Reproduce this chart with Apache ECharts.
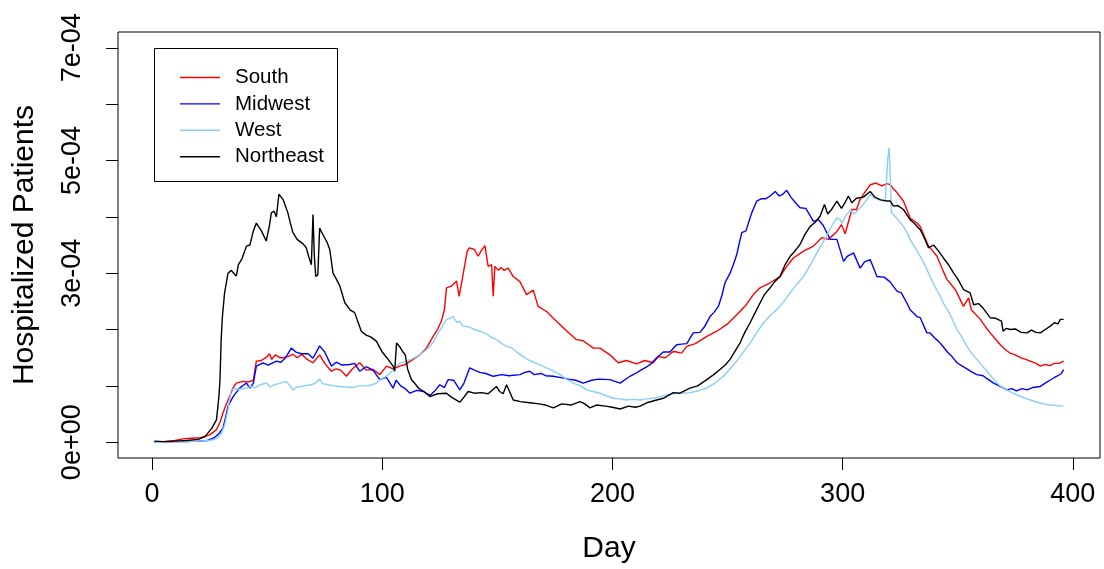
<!DOCTYPE html>
<html>
<head>
<meta charset="utf-8">
<script src="https://cdn.jsdelivr.net/npm/echarts@6/dist/echarts.min.js"></script>
<style>
  html, body { margin: 0; padding: 0; background: #fff; }
  #chart { width: 1104px; height: 569px; }
</style>
</head>
<body>
<div id="chart"></div>
<script>
// Daily hospitalized patients per capita by US region, [day, value in units of 1e-4]
const south = [[1,0.0],[5,0.01],[10,0.03],[13.4,0.06],[17,0.07],[21,0.08],[25,0.13],[27.9,0.22],[29.5,0.35],[30.8,0.52],[32,0.65],[33.7,0.81],[35,0.95],[36.6,1.05],[39.5,1.08],[42,1.07],[44,1.1],[45.3,1.44],[47.5,1.45],[50,1.52],[51,1.57],[52,1.47],[53.5,1.55],[55.5,1.50],[57,1.50],[59,1.52],[61.2,1.56],[63,1.50],[65,1.56],[67,1.48],[69.9,1.41],[72.8,1.55],[75,1.40],[77.9,1.26],[80,1.30],[82,1.28],[84.4,1.17],[87,1.30],[90.2,1.41],[93,1.28],[96,1.29],[99,1.2],[101.8,1.35],[104.7,1.30],[107.6,1.35],[110,1.38],[113.4,1.47],[116.3,1.55],[119.2,1.67],[122.1,1.88],[124,2.0],[125.7,2.15],[127,2.35],[127.9,2.74],[130,2.77],[132.3,2.86],[133.4,2.59],[135,2.95],[136.9,3.39],[137.8,3.45],[140,3.42],[141.7,3.30],[143,3.40],[144.6,3.49],[146,3.12],[147.5,3.15],[148.2,2.59],[148.9,3.12],[150.5,3.05],[151.5,3.10],[153,3.05],[154.7,3.09],[156.9,2.94],[159.8,2.85],[162.7,2.62],[165.6,2.70],[167.7,2.41],[171.4,2.32],[174.3,2.20],[177.2,2.09],[180,1.98],[184.4,1.82],[187.3,1.80],[191.7,1.67],[194.6,1.67],[198.9,1.55],[202.5,1.41],[206,1.45],[210.5,1.39],[214,1.45],[217.7,1.41],[219.9,1.52],[223,1.50],[226.4,1.61],[228,1.60],[230,1.58],[232.3,1.70],[236,1.75],[241,1.88],[245.3,1.97],[249.7,2.09],[252.5,2.20],[255.4,2.32],[258.3,2.45],[261.2,2.62],[264.1,2.74],[268.5,2.83],[272.8,2.94],[275.7,3.12],[278.6,3.27],[283,3.39],[287.3,3.48],[290.9,3.63],[293.8,3.60],[297.5,3.74],[299.5,3.86],[301.1,3.70],[304,4.13],[306,4.13],[307.6,4.31],[309,4.40],[312,4.57],[314.5,4.60],[317,4.55],[319.2,4.59],[320.7,4.57],[322,4.50],[323.6,4.43],[326.4,4.28],[327.9,4.13],[329.3,3.98],[332.3,3.89],[333.7,3.83],[335.5,3.65],[337.3,3.48],[339,3.40],[341,3.30],[343,3.10],[345.3,2.89],[348.9,2.71],[350.5,2.58],[352.5,2.41],[354.7,2.56],[355.9,2.35],[359.8,2.18],[362,2.05],[364.1,1.94],[366,1.85],[368.5,1.73],[370.5,1.65],[372.8,1.58],[375,1.55],[377.2,1.50],[379.5,1.47],[381.5,1.44],[384,1.40],[385.9,1.35],[388,1.38],[390,1.36],[392,1.40],[394,1.40],[396,1.44]];

const midwest = [[1,0.0],[5,0.0],[10,0.01],[15,0.01],[20,0.02],[24,0.03],[27,0.08],[29,0.15],[30.8,0.25],[32,0.45],[33,0.64],[35.2,0.81],[38,0.96],[41,1.05],[42.5,0.96],[44,1.05],[45.3,1.35],[48.2,1.41],[50.5,1.37],[52,1.40],[54,1.44],[56,1.42],[58,1.50],[60.5,1.67],[62.5,1.60],[65,1.57],[67.8,1.57],[69.9,1.49],[72.8,1.71],[75,1.60],[77.9,1.35],[80,1.42],[82.5,1.37],[85.9,1.38],[88,1.40],[90.2,1.26],[93,1.34],[96,1.28],[98.9,1.11],[101.8,1.15],[104.7,0.96],[106,1.10],[108,1.00],[110,0.95],[112,0.87],[115,0.92],[118,0.90],[120.7,0.83],[123,0.92],[125,1.02],[127,0.97],[128.6,1.11],[131,1.10],[133.7,0.93],[135.5,1.05],[138,1.32],[140,1.28],[142.4,1.24],[145,1.22],[148.2,1.17],[152,1.20],[155,1.18],[159.8,1.20],[162,1.24],[164.1,1.26],[166,1.20],[169,1.22],[171,1.18],[174.3,1.17],[177,1.15],[181,1.12],[184,1.10],[187.3,1.05],[191,1.10],[194,1.12],[198.9,1.11],[203.3,1.05],[207.6,1.17],[210,1.22],[212,1.27],[215,1.34],[217,1.40],[219.2,1.50],[222.1,1.60],[225,1.60],[227.9,1.73],[230,1.74],[232.3,1.75],[235.1,1.94],[238,1.95],[240,2.05],[242.4,2.23],[244,2.30],[246,2.41],[247.5,2.60],[248.9,2.83],[251.1,3.00],[252.5,3.15],[254,3.33],[255.2,3.55],[256.2,3.72],[258,3.75],[259,3.88],[260.5,4.07],[262.7,4.28],[264.5,4.32],[266.5,4.32],[268.5,4.37],[270.7,4.45],[272.5,4.37],[274,4.40],[275.7,4.47],[277.5,4.35],[279.5,4.25],[281.5,4.16],[284,4.15],[287.3,3.92],[289.5,3.95],[291.5,3.85],[294.6,3.60],[297.5,3.60],[300.4,3.21],[302,3.30],[304.7,3.36],[307.6,3.09],[309.5,3.20],[312,3.24],[314.9,2.94],[318,2.93],[320.5,2.85],[323.6,2.68],[325.5,2.65],[327.9,2.47],[329.3,2.35],[332.3,2.23],[333.7,2.21],[336.6,1.94],[338,1.94],[340,1.85],[341.7,1.79],[343,1.73],[345.3,1.61],[347.5,1.52],[349.7,1.41],[352,1.35],[354,1.30],[356,1.25],[358.3,1.20],[361,1.18],[363,1.12],[365.6,1.05],[368,1.00],[371.4,0.93],[373.5,0.95],[375.5,0.91],[378,0.95],[380.1,0.93],[382.5,0.97],[385.9,0.99],[388,1.05],[390,1.10],[391.7,1.14],[393.5,1.18],[395,1.22],[396,1.29]];

const west = [[1,0.0],[5,0.0],[10,0.01],[15,0.01],[20,0.02],[25,0.03],[28,0.06],[30,0.15],[31.5,0.30],[33,0.58],[34.4,0.93],[36,0.95],[38,0.94],[41,0.96],[43,0.99],[45,0.97],[47,1.02],[49.6,1.05],[51.5,0.98],[53,1.02],[55,1.04],[58.3,1.08],[60,1.00],[61.2,0.93],[63,0.98],[66,1.00],[69.2,1.02],[71,1.05],[72.8,1.12],[74,1.04],[76.5,1.02],[79,1.00],[81.5,0.99],[84,0.98],[87,0.97],[90,1.00],[93,1.00],[95.5,1.02],[97.5,1.05],[99,1.11],[101.8,1.17],[104,1.25],[105.4,1.33],[107.6,1.40],[110,1.43],[113,1.48],[116.3,1.55],[118.5,1.62],[120.7,1.70],[122.5,1.80],[124.3,1.94],[126,2.05],[127.9,2.18],[129.5,2.20],[130.8,2.23],[132.5,2.12],[133.5,2.15],[135.1,2.06],[137.5,2.05],[140,2.00],[142.4,1.97],[145,1.93],[147.5,1.86],[149.6,1.82],[152,1.75],[154,1.70],[156,1.68],[158.5,1.60],[161.2,1.52],[164,1.45],[167,1.40],[171.4,1.32],[174,1.27],[177.2,1.20],[180,1.12],[183,1.05],[186,1.00],[188.8,0.93],[191.5,0.90],[194.6,0.87],[197.5,0.82],[200.3,0.78],[203,0.77],[206.2,0.75],[209,0.76],[212,0.75],[215,0.77],[217.7,0.78],[220,0.80],[223.6,0.84],[226.4,0.86],[229.3,0.87],[233.7,0.88],[237,0.91],[241,0.96],[244.5,1.05],[248.2,1.17],[251,1.30],[254,1.44],[256.5,1.58],[259.8,1.76],[262.5,1.93],[265.6,2.12],[268.5,2.25],[271.4,2.35],[274.5,2.50],[277.2,2.65],[280,2.80],[283,2.94],[286,3.15],[288.8,3.36],[291,3.52],[293.1,3.66],[294.5,3.78],[296,3.89],[297.5,3.98],[298.9,3.95],[299.7,3.88],[301,4.00],[303.3,4.12],[305,4.05],[306.9,4.13],[308.5,4.20],[310,4.28],[312,4.40],[314,4.33],[316,4.30],[318.5,4.28],[319.2,4.31],[319.6,5.02],[320.2,5.23],[320.8,4.60],[321.2,4.07],[322.1,4.04],[324,3.95],[326.4,3.83],[328,3.72],[329.3,3.60],[331.5,3.45],[333.7,3.30],[336,3.12],[338,2.94],[340,2.77],[342.4,2.59],[344,2.45],[346,2.32],[348,2.15],[349.7,2.00],[352,1.85],[354,1.70],[356,1.58],[358.3,1.47],[360.5,1.36],[362.7,1.26],[365,1.15],[367,1.05],[369,0.98],[371.4,0.93],[373.5,0.88],[375.7,0.84],[378.5,0.79],[381.5,0.75],[384.5,0.71],[387.3,0.68],[390,0.66],[393.1,0.65],[395,0.64],[396,0.65]];

const northeast = [[1,0.02],[5,0.01],[10,0.02],[15,0.03],[20,0.05],[23,0.10],[26,0.25],[28,0.40],[29,0.80],[29.5,1.10],[30,1.80],[30.5,2.20],[31.5,2.65],[33,3.00],[34.4,3.05],[35.5,3.00],[36.6,2.95],[37.5,3.15],[39,3.25],[41,3.48],[42.5,3.50],[44,3.75],[45.3,3.89],[47.5,3.75],[49.6,3.57],[51,3.85],[51.8,4.07],[53,4.10],[54,4.00],[55.1,4.40],[57,4.30],[59,4.07],[60,3.90],[61.2,3.72],[63,3.60],[65.6,3.52],[67,3.45],[68,3.30],[69.2,3.15],[69.9,4.04],[70.5,3.30],[71.1,2.94],[72,2.97],[72.8,3.80],[74,3.70],[76,3.55],[77.2,3.42],[78.6,3.00],[80,2.90],[81.5,2.78],[83.7,2.48],[86,2.35],[88,2.30],[90.9,1.97],[93,1.90],[95,1.87],[97.5,1.79],[100,1.60],[102,1.50],[104.7,1.35],[105.4,1.26],[106.2,1.76],[107.5,1.70],[109,1.60],[110,1.55],[111,1.30],[112.7,1.11],[114,1.05],[116,0.95],[118,0.90],[120.7,0.81],[124,0.86],[127.9,0.87],[130,0.80],[133.7,0.71],[135.5,0.80],[137.3,0.90],[140,0.87],[143,0.88],[146,0.86],[149.6,0.99],[151,0.90],[152.5,0.86],[154,1.02],[156.9,0.75],[160,0.72],[164.1,0.70],[168,0.68],[171,0.66],[174.3,0.61],[178,0.68],[182,0.66],[185.9,0.72],[188,0.68],[190.2,0.61],[193,0.66],[197,0.64],[200,0.62],[203.3,0.59],[207,0.64],[210,0.62],[212,0.64],[214.9,0.70],[219.2,0.75],[222.1,0.78],[226.4,0.88],[229.3,0.87],[233.7,0.96],[237,1.00],[241,1.11],[244,1.20],[246.7,1.29],[249,1.37],[251.1,1.47],[253,1.60],[255.4,1.76],[257.5,1.95],[259.8,2.12],[262,2.30],[264.1,2.47],[266,2.62],[268.5,2.74],[270.5,2.85],[272.8,2.94],[275,3.15],[277.2,3.30],[279,3.38],[281.5,3.51],[283.5,3.68],[285.9,3.83],[288,3.90],[290.2,4.01],[292.1,4.22],[293.5,4.05],[295,4.12],[297.5,4.28],[299.5,4.15],[301,4.25],[302.5,4.37],[304,4.25],[306,4.33],[309,4.35],[312,4.45],[314,4.35],[316.5,4.30],[319.2,4.28],[320.7,4.28],[322.1,4.19],[324,4.20],[326.4,4.13],[329.3,3.95],[331,3.89],[333.7,3.77],[335.1,3.66],[337.3,3.45],[339.5,3.50],[341.5,3.40],[343.8,3.27],[346,3.15],[348.2,3.00],[350,2.90],[352.5,2.71],[355.4,2.65],[356.9,2.44],[359,2.46],[361,2.38],[364.1,2.21],[366.5,2.20],[369,2.15],[369.7,1.97],[371,2.02],[373,2.00],[375,2.01],[377.5,1.95],[380.1,1.94],[382,1.99],[384,1.95],[385.9,1.94],[388,2.00],[390.2,2.06],[392,2.12],[393.5,2.10],[394.6,2.18],[396,2.18]];

const seriesNames = ['South', 'Midwest', 'West', 'Northeast'];
const seriesColors = ['#ff0000', '#0000ff', '#87cefa', '#000000'];
const seriesData = [south, midwest, west, northeast];

const xTicks = [0, 100, 200, 300, 400];
const yTicks = [0, 1e-4, 2e-4, 3e-4, 4e-4, 5e-4, 6e-4, 7e-4];
const yLabelTicks = [0, 3e-4, 5e-4, 7e-4];
const yLabelText = ['0e+00', '3e-04', '5e-04', '7e-04'];

const FONT = '"Liberation Sans", Arial, sans-serif';

const chart = echarts.init(document.getElementById('chart'), null, { renderer: 'canvas' });

chart.setOption({
  animation: false,
  backgroundColor: '#ffffff',
  textStyle: { fontFamily: FONT, color: '#000' },
  grid: {
    left: 118, right: 4, top: 32, bottom: 110,
    show: true, borderColor: '#000', borderWidth: 1, backgroundColor: 'transparent'
  },
  legend: {
    orient: 'vertical',
    left: 175, top: 62,
    icon: 'rect',
    itemWidth: 40, itemHeight: 1.4, itemGap: 5.4,
    textStyle: { fontFamily: FONT, fontSize: 20.5, color: '#000', padding: [0, 0, 0, 10] },
    data: seriesNames
  },
  graphic: [{
    type: 'rect',
    shape: { x: 154.5, y: 48.5, width: 183, height: 133 },
    style: { fill: 'none', stroke: '#000', lineWidth: 1 },
    z: 10
  }],
  xAxis: {
    type: 'value',
    min: -14.8, max: 411.8,
    name: 'Day',
    nameLocation: 'middle',
    nameGap: 76,
    nameTextStyle: { fontFamily: FONT, fontSize: 30, color: '#000' },
    axisLine: { show: false, onZero: false },
    splitLine: { show: false },
    axisTick: { show: true, inside: false, length: 12, customValues: xTicks, lineStyle: { color: '#000', width: 1 } },
    axisLabel: { show: true, margin: 23, customValues: xTicks, fontSize: 27, color: '#000', fontFamily: FONT }
  },
  yAxis: {
    type: 'value',
    min: -0.28e-4, max: 7.28e-4,
    name: 'Hospitalized Patients',
    nameLocation: 'middle',
    nameRotate: 90,
    nameGap: 78,
    nameTextStyle: { fontFamily: FONT, fontSize: 30, color: '#000' },
    axisLine: { show: false, onZero: false },
    splitLine: { show: false },
    axisTick: { show: true, inside: false, length: 12, customValues: yTicks, lineStyle: { color: '#000', width: 1 } },
    axisLabel: {
      show: true, rotate: 90, margin: 32, customValues: yLabelTicks,
      fontSize: 27, color: '#000', fontFamily: FONT,
      formatter: function (v) {
        let best = 0;
        yLabelTicks.forEach(function (t, i) {
          if (Math.abs(t - v) < Math.abs(yLabelTicks[best] - v)) best = i;
        });
        return yLabelText[best];
      }
    }
  },
  series: seriesNames.map(function (name, i) {
    return {
      name: name,
      type: 'line',
      symbol: 'none',
      smooth: false,
      color: seriesColors[i],
      lineStyle: { color: seriesColors[i], width: 1.4 },
      data: seriesData[i].map(function (p) { return [p[0], p[1] * 1e-4]; }),
      z: 2 + i
    };
  })
});
</script>
</body>
</html>
